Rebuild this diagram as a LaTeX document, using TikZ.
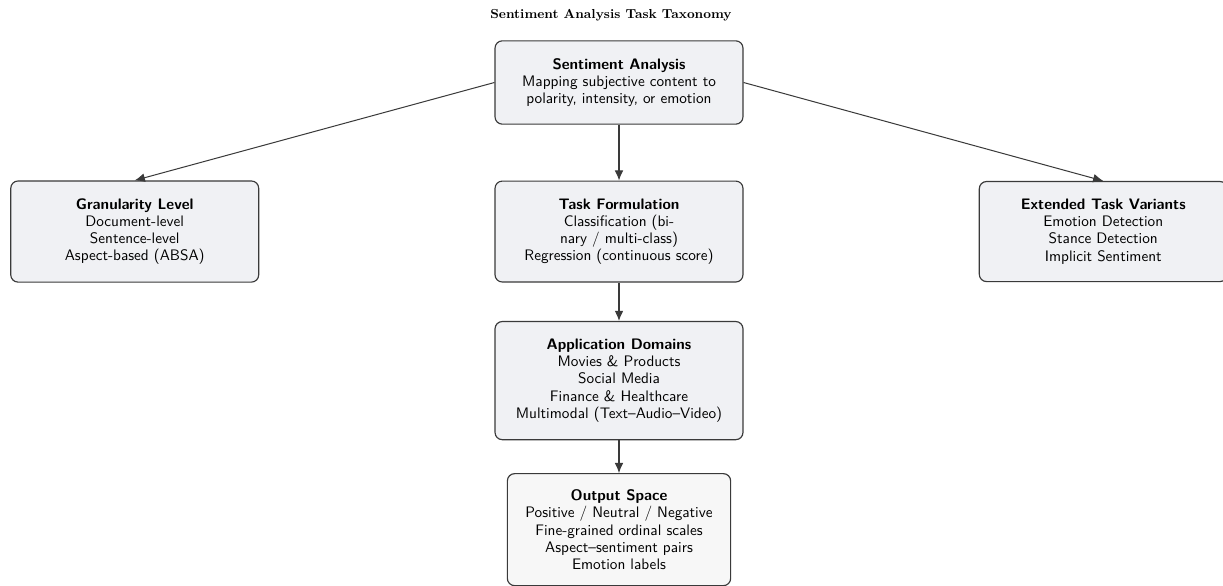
\documentclass[tikz,border=0pt]{standalone}
\usepackage{tikz}
\usetikzlibrary{
  positioning,
  arrows.meta
}
\definecolor{boxfill}{HTML}{F0F1F4}
\definecolor{outfill}{HTML}{F7F7F7}
\definecolor{boxline}{HTML}{3A3A3A}
\tikzset{
  >={Latex[length=7pt,width=6pt]},
  node distance=102.8pt,
  every edge/.style={draw=boxline, line width=0.7pt, ->},
  taskbox/.style={draw=boxline, line width=0.8pt, fill=boxfill, rounded corners=5pt,
    font=\sffamily\fontsize{10.5}{11.9}\selectfont, align=center, minimum width=171pt, inner ysep=12pt},
  outbox/.style={taskbox, fill=outfill, minimum width=154pt, inner ysep=11pt}
}

\begin{document}
\begin{tikzpicture}[x=0.6897pt, y=-0.6897pt]
    \useasboundingbox (0,0) rectangle (1223,586);
    \node[font=\small\bfseries] (title) at (611,15) {Sentiment Analysis Task Taxonomy};
    \node[taskbox] (root) at (619,82.5) {\textbf{Sentiment Analysis}\\Mapping subjective content to\\polarity, intensity, or emotion};
    \node[taskbox, below of=root] (task) {\textbf{Task Formulation}\\Classification (bi-\\nary / multi-class)\\Regression (continuous score)};
    \node[taskbox, node distance=334pt, left of=task] (gran) {\textbf{Granularity Level}\\Document-level\\Sentence-level\\Aspect-based (ABSA)};
    \node[taskbox, node distance=334pt, right of=task] (ext) {\textbf{Extended Task Variants}\\Emotion Detection\\Stance Detection\\Implicit Sentiment};
    \node[taskbox, below of=task] (app) {\textbf{Application Domains}\\Movies \& Products\\Social Media\\Finance \& Healthcare\\Multimodal (Text--Audio--Video)};
    \node[outbox, below of=app] (out) {\textbf{Output Space}\\Positive / Neutral / Negative\\Fine-grained ordinal scales\\Aspect--sentiment pairs\\Emotion labels};
    \draw (root.west) edge (gran.north);
    \draw (root.east) edge (ext.north);
    \draw (root) edge (task);
    \draw (task) edge (app);
    \draw (app) edge (out);
  \end{tikzpicture}
\end{document}
